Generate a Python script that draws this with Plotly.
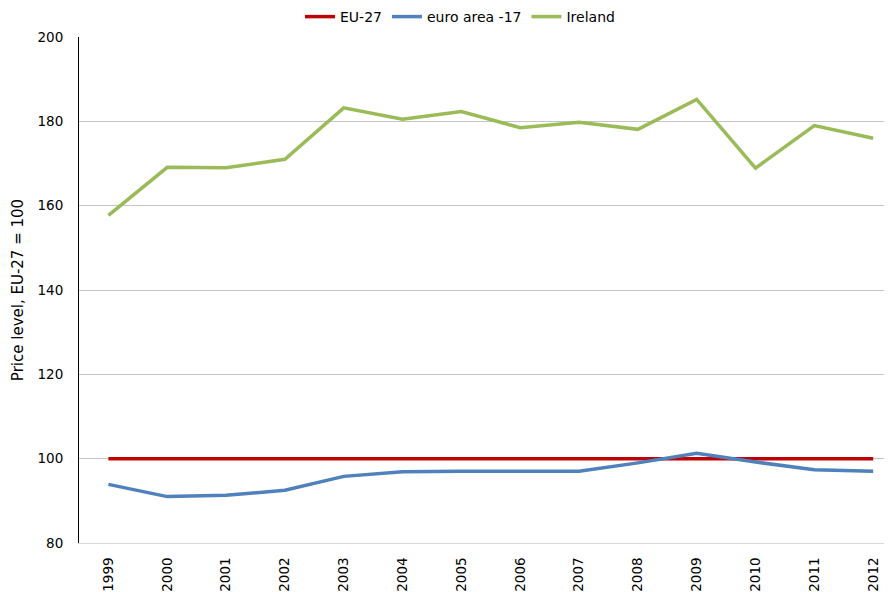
import plotly.graph_objects as go

years = [1999, 2000, 2001, 2002, 2003, 2004, 2005, 2006, 2007, 2008, 2009, 2010, 2011, 2012]
eu27 = [100] * 14
euro_area = [93.9, 91.0, 91.3, 92.5, 95.8, 96.9, 97.0, 97.0, 97.0, 99.0, 101.3, 99.2, 97.4, 97.0]
ireland = [157.7, 169.1, 169.0, 171.0, 183.2, 180.5, 182.3, 178.5, 179.8, 178.1, 185.2, 168.9, 179.0, 176.0]
y_ticks = [80, 100, 120, 140, 160, 180, 200]

# page has an 8px body margin, so the figure is sized/offset to compensate
W, H = 884, 584

fig = go.Figure()
for name, vals, col in [("EU-27", eu27, "#C00000"),
                        ("euro area -17", euro_area, "#4F81BD"),
                        ("Ireland", ireland, "#9BBB59")]:
    fig.add_trace(go.Scatter(x=years, y=vals, name=name, mode="lines",
                             line=dict(color=col, width=3.5)))

fig.update_layout(
    width=W, height=H,
    margin=dict(l=71, r=0, t=29, b=49, autoexpand=False),
    plot_bgcolor="white", paper_bgcolor="white",
    font=dict(family="DejaVu Sans", size=13.5, color="black"),
    showlegend=True,
    legend=dict(orientation="h", x=452 / W, xanchor="center", xref="container",
                y=1 - 9 / H, yanchor="middle", yref="container",
                font=dict(family="DejaVu Sans", size=14),
                itemwidth=30, tracegroupgap=0),
    xaxis=dict(range=[1998.5, 2012.32], tickvals=years, ticktext=[str(y) for y in years],
               tickangle=-90, showgrid=False, showline=True, linecolor="#D9D9D9",
               linewidth=1, ticks="outside", ticklen=0, ticklabelstandoff=8,
               zeroline=False, automargin=False),
    yaxis=dict(range=[80, 200], tickvals=y_ticks, showgrid=True, gridcolor="#C4C4C4",
               gridwidth=1, showline=True, linecolor="black", linewidth=1,
               ticks="outside", ticklen=0, ticklabelstandoff=12, zeroline=False,
               automargin=False,
               title=dict(text="Price level, EU-27 = 100", standoff=10,
                          font=dict(family="DejaVu Sans", size=15))),
)
fig.write_html("out.html")
